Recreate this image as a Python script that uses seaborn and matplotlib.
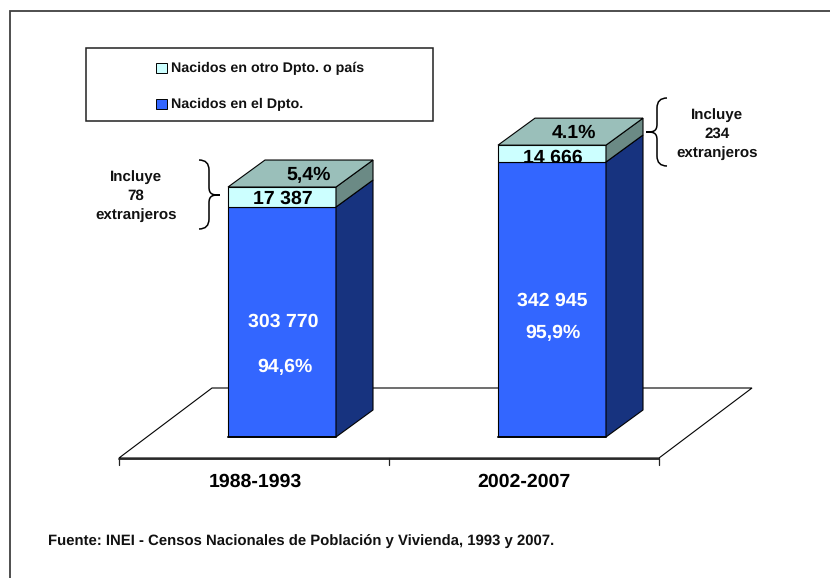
import matplotlib
matplotlib.use('Agg')
import matplotlib.pyplot as plt
from matplotlib.patches import Polygon, Rectangle, PathPatch
from matplotlib.path import Path
from matplotlib.transforms import IdentityTransform, Bbox
import seaborn as sns
import pandas as pd

periods = ['1988-1993', '2002-2007']
born_here = [303770, 342945]
born_other = [17387, 14666]
pct_here = ['94,6%', '95,9%']
pct_other = ['5,4%', '4.1%']
labels_here = ['303 770', '342 945']
labels_other = ['17 387', '14 666']
notes = ['Incluye\n78\nextranjeros', 'Incluye\n234\nextranjeros']
legend_labels = ['Nacidos en otro Dpto. o país', 'Nacidos en el Dpto.']
source = 'Fuente: INEI - Censos Nacionales de Población y Vivienda, 1993 y 2007.'

W, H = 830, 578
BLUE, BLUE_SIDE = '#3366FF', '#17337F'
PALE, PALE_SIDE, PALE_TOP = '#CCFFFF', '#6B8A85', '#9ABFBA'
DX, DY = 37, 27  # fake 3d depth in pixels

sns.set_theme(style='white')
plt.rcParams['font.family'] = ['Liberation Sans', 'DejaVu Sans']
plt.rcParams['text.hinting'] = 'no_hinting'

fig = plt.figure(figsize=(W / 100, H / 100), dpi=100, facecolor='white')

# pixel canvas behind the chart: frame, floor, notes
bg = fig.add_axes([0, 0, 1, 1], zorder=0)
bg.set_xlim(0, W)
bg.set_ylim(H, 0)
bg.axis('off')
bg.add_patch(Rectangle((10, 11), 830, 580, fc='white', ec='#404040', lw=1.3))
bg.add_patch(Polygon([(119, 458), (212, 388), (752, 388), (659, 458)], closed=True, fc='white', ec='black', lw=0.8))
bg.plot([119, 659], [458.5, 458.5], color='#222222', lw=1.3)
for x in [119, 389, 659]:
    bg.plot([x, x], [458, 465], color='#222222', lw=0.9)

# the bars themselves, axis starts above zero as in the original
ax = fig.add_axes([147 / W, 1 - 437 / H, 540 / W, 300 / H], zorder=1)
ax.patch.set_alpha(0)
df = pd.DataFrame({'period': periods, 'here': born_here, 'other': born_other})
sns.barplot(data=df, x='period', y='here', color=BLUE, saturation=1, width=0.4, ax=ax,
            edgecolor='black', linewidth=0.8, zorder=3)
here_bars = list(ax.patches)
sns.barplot(data=df, x='period', y='other', bottom=df['here'], color=PALE, saturation=1, width=0.4, ax=ax,
            edgecolor='black', linewidth=0.8, zorder=3)
pale_bars = list(ax.patches)[len(here_bars):]
ax.set_xlim(-0.5, 1.5)
ax.set_ylim(103600, 364700)
ax.set_xlabel('')
ax.set_ylabel('')
ax.set_xticks([])
ax.set_yticks([])
sns.despine(ax=ax, left=True, bottom=True)
fig.canvas.draw()


def corner(x, y):
    return ax.transData.transform((x, y))


def face(points, color):
    p = Polygon(points, closed=True, fc=color, ec='black', lw=0.8, transform=IdentityTransform(), zorder=3)
    p.set_clip_on(False)
    fig.add_artist(p)
    return p


ymin = ax.get_ylim()[0]
for bars, side in [(here_bars, BLUE_SIDE), (pale_bars, PALE_SIDE)]:
    for b in bars:
        x1 = b.get_x() + b.get_width()
        a = corner(x1, max(b.get_y(), ymin))
        d = corner(x1, b.get_y() + b.get_height())
        face([a, (a[0] + DX, a[1] + DY), (d[0] + DX, d[1] + DY), d], side)

tops = []
for b in pale_bars:
    y1 = b.get_y() + b.get_height()
    l = corner(b.get_x(), y1)
    r = corner(b.get_x() + b.get_width(), y1)
    tops.append(face([l, (l[0] + DX, l[1] + DY), (r[0] + DX, r[1] + DY), r], PALE_TOP))

# baseline under the front faces, the bars get clipped at the axis
for b in here_bars:
    ax.plot([b.get_x(), b.get_x() + b.get_width()], [ymin, ymin], color='black', lw=1.4, clip_on=False, zorder=4)

# value labels
here_pos = [((283, 322), (285, 367)), ((552, 301), (553, 333))]
for i in range(2):
    style = dict(ha='center', va='center', color='white', fontsize=14, fontweight='bold', zorder=6)
    fig.text(here_pos[i][0][0] / W, 1 - here_pos[i][0][1] / H, labels_here[i], **style)
    fig.text(here_pos[i][1][0] / W, 1 - here_pos[i][1][1] / H, pct_here[i], **style)

other_pos = [(283, 198.5), (553, 158)]
top_pos = [(309, 175), (574, 133)]
for i in range(2):
    t = fig.text(other_pos[i][0] / W, 1 - other_pos[i][1] / H, labels_other[i], ha='center', va='center',
                 color='black', fontsize=14, fontweight='bold', zorder=6)
    t.set_clip_path(pale_bars[i])
    t = fig.text(top_pos[i][0] / W, 1 - top_pos[i][1] / H, pct_other[i], ha='center', va='center',
                 color='black', fontsize=14, fontweight='bold', zorder=6)
    t.set_clip_path(tops[i])
    if i == 1:
        # the original cuts this label off near its baseline
        t.set_clip_path(None)
        t.set_clip_box(Bbox([[500, H - 138.5], [640, H - 110]]))
        t.set_clip_on(True)

# legend box
bg.add_patch(Rectangle((86, 47.5), 347, 73.5, fc='white', ec='#222222', lw=1.1))
for y, color, lab in [(67.5, PALE, legend_labels[0]), (103.5, BLUE, legend_labels[1])]:
    bg.add_patch(Rectangle((156, y - 5), 11, 10, fc=color, ec='black', lw=0.7))
    bg.text(171, y + 0.5, lab, ha='left', va='center', fontsize=10.3, fontweight='bold', color='#111111')

# period labels
bg.text(255, 481.5, periods[0], ha='center', va='center', fontsize=14, fontweight='bold', color='black')
bg.text(524, 481.5, periods[1], ha='center', va='center', fontsize=14, fontweight='bold', color='black')

# notes
bg.text(136, 196, notes[0], ha='center', va='center', fontsize=10.9, fontweight='bold', linespacing=1.5, color='#111111')
bg.text(717, 134, notes[1], ha='center', va='center', fontsize=10.9, fontweight='bold', linespacing=1.5, color='#111111')


def brace(xtip, xspine, xend, ytop, ymid, ybot):
    verts = [(xend, ytop), (xspine, ytop), (xspine, ytop + 10),
             (xspine, ymid - 8),
             (xspine, ymid), (xspine + (xtip - xspine) * 0.4, ymid), (xtip, ymid),
             (xspine + (xtip - xspine) * 0.4, ymid), (xspine, ymid), (xspine, ymid + 8),
             (xspine, ybot - 10),
             (xspine, ybot), (xend, ybot)]
    codes = [Path.MOVETO, Path.CURVE3, Path.CURVE3, Path.LINETO, Path.CURVE4, Path.CURVE4, Path.CURVE4,
             Path.CURVE4, Path.CURVE4, Path.CURVE4, Path.LINETO, Path.CURVE3, Path.CURVE3]
    bg.add_patch(PathPatch(Path(verts, codes), fc='none', ec='black', lw=1.1))


brace(220, 209, 199, 160, 195, 229)
brace(646, 657, 667, 98, 132, 166)

bg.text(48, 541, source, ha='left', va='center', fontsize=10.75, fontweight='bold', color='#111111')

fig.savefig('out.png', dpi=100)
plt.close(fig)
